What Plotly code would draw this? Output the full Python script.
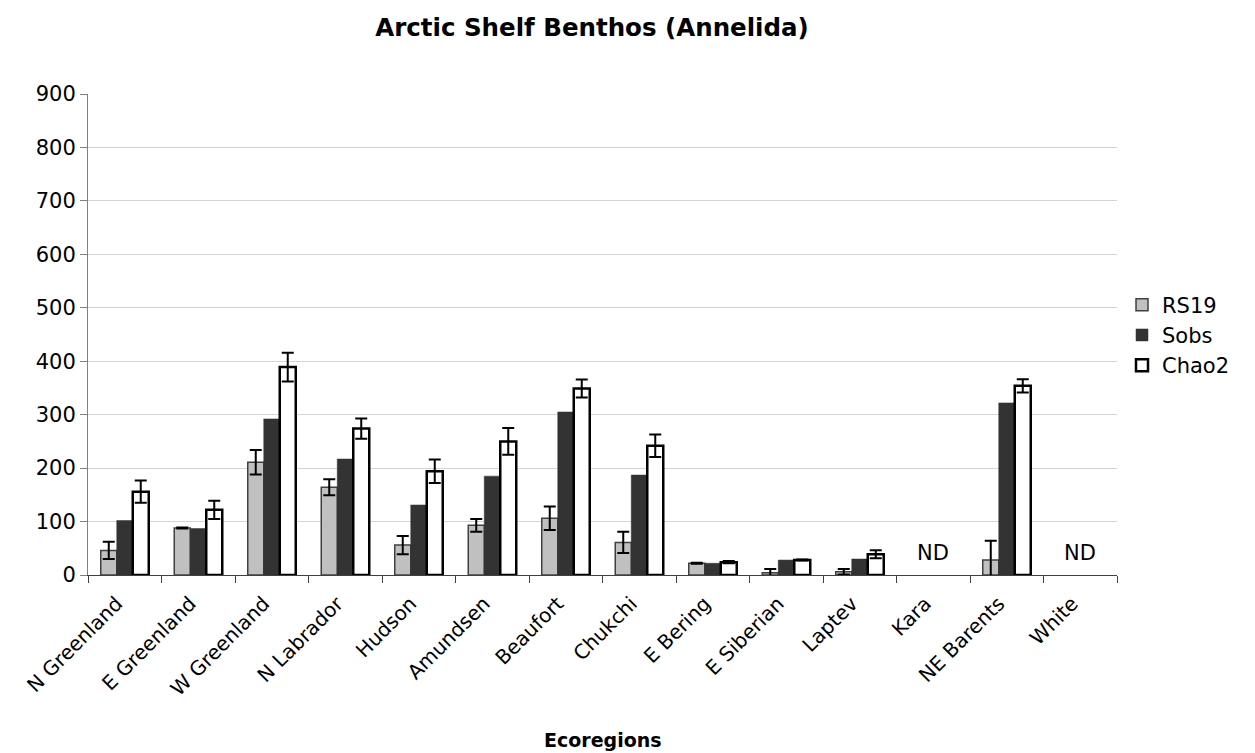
import plotly.graph_objects as go

# Ecoregions and richness estimates (Annelida)
categories = ["N Greenland", "E Greenland", "W Greenland", "N Labrador", "Hudson",
              "Amundsen", "Beaufort", "Chukchi", "E Bering", "E Siberian",
              "Laptev", "Kara", "NE Barents", "White"]
rs19 = [46, 88, 211, 164, 56, 93, 106, 61, 22, 4, 6, None, 28, None]
rs19_err = [16, 1, 23, 15, 17, 12, 22, 20, 1, 7, 5, None, 36, None]
sobs = [102, 87, 292, 217, 131, 185, 305, 187, 22, 28, 30, None, 322, None]
chao2 = [156, 122, 389, 274, 194, 250, 349, 242, 24, 28, 39, None, 354, None]
chao2_err = [21, 17, 27, 19, 22, 25, 17, 21, 2, 1, 7.5, None, 12.5, None]
no_data = ["Kara", "White"]
y_ticks = [0, 100, 200, 300, 400, 500, 600, 700, 800, 900]

FONT = "DejaVu Sans"
W, H = 1255, 753
L, R, T, B = 88, 138, 94, 178
plot_h = H - T - B

fig = go.Figure()
fig.add_trace(go.Bar(
    name="RS19", x=categories, y=rs19,
    marker=dict(color="#C0C0C0", line=dict(color="#404040", width=1.5)),
    error_y=dict(type="data", array=rs19_err, visible=True,
                 color="black", thickness=2, width=6),
))
fig.add_trace(go.Bar(
    name="Sobs", x=categories, y=sobs,
    marker=dict(color="#333333", line=dict(color="#333333", width=0.5)),
))
fig.add_trace(go.Bar(
    name="Chao2", x=categories, y=chao2,
    marker=dict(color="white", line=dict(color="black", width=2.5)),
    error_y=dict(type="data", array=chao2_err, visible=True,
                 color="black", thickness=2, width=6),
))

annotations = [
    dict(x=c, y=42, xref="x", yref="y", text="ND", showarrow=False,
         font=dict(family=FONT, size=21, color="black"), yanchor="middle")
    for c in no_data
]
annotations.append(dict(
    x=0.5, xref="paper", y=(H - B - 740) / plot_h, yref="paper",
    text="<b>Ecoregions</b>", showarrow=False, yanchor="middle",
    font=dict(family=FONT, size=19, color="black"),
))

fig.update_layout(
    width=W, height=H,
    margin=dict(l=L, r=R, t=T, b=B, autoexpand=False),
    paper_bgcolor="white", plot_bgcolor="white",
    font=dict(family=FONT, size=21, color="black"),
    title=dict(text="<b>Arctic Shelf Benthos (Annelida)</b>",
               x=592 / W, xref="container", xanchor="center",
               y=1 - 27 / H, yref="container", yanchor="middle",
               font=dict(family=FONT, size=24.5, color="black")),
    barmode="group", bargap=0.347, bargroupgap=0,
    showlegend=True,
    legend=dict(x=(1122 - L) / (W - L - R), xanchor="left",
                y=(H - B - 335) / plot_h, yanchor="middle",
                font=dict(family=FONT, size=21, color="black"),
                bgcolor="rgba(0,0,0,0)", tracegroupgap=0),
    annotations=annotations,
)

fig.update_xaxes(
    type="category", categoryorder="array", categoryarray=categories,
    tickangle=-45, tickfont=dict(family=FONT, size=20, color="black"),
    ticklabelstandoff=8, ticklabelshift=-8,
    showline=True, linecolor="#404040", linewidth=1,
    ticks="outside", tickson="boundaries", ticklen=7, tickcolor="#404040",
    showgrid=False, zeroline=False,
)
fig.update_yaxes(
    range=[0, 900], tickmode="array", tickvals=y_ticks,
    tickfont=dict(family=FONT, size=21, color="black"),
    showline=True, linecolor="#808080", linewidth=1,
    ticks="outside", ticklen=7, tickcolor="#808080",
    showgrid=True, gridcolor="#D4D4D4", gridwidth=1,
    zeroline=False,
)

fig.write_html("out.html")
